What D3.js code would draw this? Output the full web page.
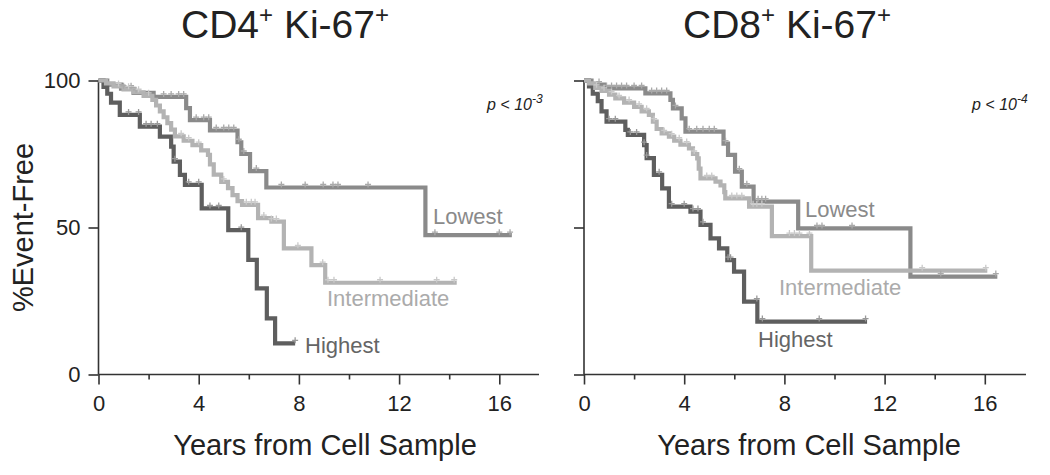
<!DOCTYPE html>
<html>
<head>
<meta charset="utf-8">
<script src="https://cdn.jsdelivr.net/npm/d3@7"></script>
<style>
  html, body { margin: 0; padding: 0; background: #fff; }
  svg { display: block; font-family: "Liberation Sans", Arial, sans-serif; }
</style>
</head>
<body>
<svg id="chart" width="1050" height="475"></svg>
<script>
// ---------- DATA ----------
const groups = ["Lowest", "Intermediate", "Highest"];
const xMajorTicks = [0, 4, 8, 12, 16];
const xMinorTicks = [2, 6, 10, 14];
const yTicks = [0, 50, 100];

// Kaplan-Meier step curves: [time (years), % event-free after the step]
const cd4Lowest = [[0,100],[0.35,98.6],[0.9,97.2],[1.4,95.8],[2.2,94.4],[3.5,90.6],[3.65,86.5],[4.45,83.0],[5.55,79.0],[5.7,75.0],[6.05,69.2],[6.7,63.6],[13.05,47.4],[16.5,47.4]];
const cd4Intermediate = [[0,100],[0.3,99],[0.6,98],[1.0,97],[1.4,96],[1.8,94.8],[2.15,93.4],[2.3,91.5],[2.45,89.5],[2.6,87.5],[2.75,85.5],[2.9,83.3],[3.05,81.0],[3.4,79.5],[3.75,78.0],[4.1,76.2],[4.37,74.7],[4.45,71.5],[4.6,68.0],[4.9,65.5],[5.17,63.4],[5.35,61.0],[5.55,59.0],[5.73,57.7],[6.37,53.2],[6.9,52.0],[7.4,42.9],[8.5,37.2],[9.05,31.2],[14.3,31.2]];
const cd4Highest = [[0,100],[0.2,97.8],[0.35,95.5],[0.5,92.5],[0.85,88.3],[1.65,84.3],[2.45,80.9],[2.9,77.5],[3.0,72.4],[3.25,67.9],[3.45,64.5],[4.12,56.5],[5.18,49.1],[5.98,39.0],[6.32,29.3],[6.72,19.1],[7.05,10.6],[7.85,10.6]];

const cd8Lowest = [[0,100],[0.3,98.6],[0.8,97.3],[2.45,95.6],[3.45,93.4],[3.55,90.5],[3.9,87.1],[4.05,82.6],[5.57,78.5],[5.75,74.7],[6.03,69.0],[6.3,63.9],[6.77,58.8],[8.55,49.7],[13.03,33.3],[16.5,33.3]];
const cd8Intermediate = [[0,100],[0.2,99],[0.45,97.5],[0.7,96.5],[1.0,95.2],[1.25,93.9],[1.6,92.5],[2.0,91.0],[2.3,89.5],[2.59,88.3],[2.75,86.0],[2.9,83.5],[3.1,82.0],[3.39,80.9],[3.6,79.5],[3.85,78.2],[4.19,76.9],[4.35,75.0],[4.52,73.5],[4.58,70.0],[4.65,66.7],[5.25,65.6],[5.45,64.3],[5.6,62.0],[5.64,59.9],[6.59,57.1],[7.5,47.1],[9.07,35.3],[16.1,35.3]];
const cd8Highest = [[0,100],[0.2,98],[0.35,95.5],[0.55,93],[0.7,89.5],[0.9,86],[1.65,83.2],[1.75,81.5],[2.4,78],[2.5,73.6],[2.79,67.9],[3.12,63.3],[3.39,57.1],[4.25,55.4],[4.65,50.9],[5.05,46.3],[5.39,42.9],[5.72,38.9],[5.99,35.0],[6.39,24.8],[6.92,18.0],[11.3,18.0]];

// censored observation times (years)
const cd4LowestCens = [1.0,1.3,1.5,2.6,2.9,3.2,3.4,3.9,4.2,4.4,4.7,5.0,5.2,5.4,5.6,5.8,6.3,7.3,8.25,8.97,9.36,9.56,10.76,13.43,16.0,16.43];
const cd4IntermediateCens = [0.8,1.2,1.6,2.0,3.3,3.6,4.0,5.0,5.9,6.1,6.25,6.6,6.9,7.1,7.96,8.95,9.16,9.4,11.24,13.5,14.2];
const cd4HighestCens = [1.2,1.6,1.9,2.1,2.35,3.05,3.6,4.0,4.45,4.8,5.7,7.85];
const cd8LowestCens = [0.6,0.9,1.1,1.3,1.5,1.7,2.0,2.3,2.7,2.9,3.1,3.3,3.65,4.2,4.5,4.75,5.0,5.2,5.65,6.2,6.5,6.95,7.1,7.25,9.3,9.5,10.7,14.24,16.44];
const cd8IntermediateCens = [0.5,0.8,1.1,1.4,1.8,2.2,2.5,2.8,3.2,3.5,3.8,4.1,4.4,4.9,5.1,5.9,6.1,6.3,6.75,6.9,7.1,8.2,8.4,8.6,9.0,13.5,16.04];
const cd8HighestCens = [1.0,1.25,1.85,2.1,2.4,2.5,3.0,3.5,4.0,4.35,4.55,4.75,5.75,5.85,6.9,7.12,9.39,11.24];

const panels = [
  { title: "CD4", p: "-3",
    curves: { Lowest: cd4Lowest, Intermediate: cd4Intermediate, Highest: cd4Highest },
    cens: { Lowest: cd4LowestCens, Intermediate: cd4IntermediateCens, Highest: cd4HighestCens } },
  { title: "CD8", p: "-4",
    curves: { Lowest: cd8Lowest, Intermediate: cd8Intermediate, Highest: cd8Highest },
    cens: { Lowest: cd8LowestCens, Intermediate: cd8IntermediateCens, Highest: cd8HighestCens } }
];

// ---------- LAYOUT / STYLE ----------
const layout = [
  { x0: 98.5, x1: 539, titleX: 285, axisTitleX: 325, pX: 487,
    labels: { Lowest: [433, 224], Intermediate: [327, 306], Highest: [305, 353] }, yLabels: true },
  { x0: 584, x1: 1026, titleX: 787, axisTitleX: 809, pX: 972,
    labels: { Lowest: [805, 217], Intermediate: [779, 295], Highest: [758, 347] }, yLabels: false }
];
const yTop = 80.5, yBot = 374.5;
const colors = { Lowest: "#8a8a8a", Intermediate: "#b3b3b3", Highest: "#5e5e5e" };
const censColors = { Lowest: "#a9a9a9", Intermediate: "#c9c9c9", Highest: "#999999" };
const labelColors = { Lowest: "#8a8a8a", Intermediate: "#ababab", Highest: "#656565" };
const drawOrder = ["Lowest", "Highest", "Intermediate"];
const axisColor = "#333";
const textColor = "#222";

const svg = d3.select("#chart");
const y = d3.scaleLinear().domain([0, 100]).range([yBot, yTop]);

panels.forEach((panel, i) => {
  const L = layout[i];
  const x = d3.scaleLinear().domain([0, 16]).range([L.x0, L.x0 + 16 * 25.05]);
  const g = svg.append("g");

  // title
  const t = g.append("text").attr("x", L.titleX).attr("y", 38)
    .attr("text-anchor", "middle").attr("fill", textColor).style("font-size", "39px");
  t.append("tspan").text(panel.title);
  t.append("tspan").text("+").style("font-size", "24px").attr("dy", -15);
  t.append("tspan").text(" Ki-67").attr("dy", 15);
  t.append("tspan").text("+").style("font-size", "24px").attr("dy", -15);

  // x axis
  const xAxis = g.append("g").attr("transform", `translate(0,${yBot})`);
  xAxis.call(d3.axisBottom(x).tickValues(xMajorTicks).tickSize(10).tickPadding(11).tickFormat(d3.format("d")));
  xAxis.append("g").call(d3.axisBottom(x).tickValues(xMinorTicks).tickSize(5).tickFormat(""))
    .select(".domain").remove();
  xAxis.selectAll(".domain").attr("stroke", axisColor).attr("stroke-width", 1.6)
    .attr("d", `M${L.x0},0H${L.x1}`);
  xAxis.selectAll(".tick line").attr("stroke", axisColor).attr("stroke-width", 1.6);
  xAxis.selectAll(".tick text").attr("fill", textColor).style("font-size", "22px")
    .style("font-family", "Liberation Sans, Arial, sans-serif");

  // y axis
  const yAxis = g.append("g").attr("transform", `translate(${L.x0},0)`);
  yAxis.call(d3.axisLeft(y).tickValues(yTicks).tickSize(10).tickPadding(8)
    .tickFormat(L.yLabels ? d3.format("d") : ""));
  yAxis.selectAll(".domain").attr("stroke", axisColor).attr("stroke-width", 1.6)
    .attr("d", `M0,${yTop}V${yBot}`);
  yAxis.selectAll(".tick line").attr("stroke", axisColor).attr("stroke-width", 1.6);
  yAxis.selectAll(".tick text").attr("fill", textColor).style("font-size", "22px")
    .style("font-family", "Liberation Sans, Arial, sans-serif");

  // axis titles
  g.append("text").attr("x", L.axisTitleX).attr("y", 455).attr("text-anchor", "middle")
    .attr("fill", textColor).style("font-size", "29px").text("Years from Cell Sample");
  if (L.yLabels) {
    g.append("text").attr("transform", `translate(33,${(yTop + yBot) / 2}) rotate(-90)`)
      .attr("text-anchor", "middle").attr("fill", textColor).style("font-size", "29px")
      .text("%Event-Free");
  }

  // p value
  const pt = g.append("text").attr("x", L.pX).attr("y", 110).attr("fill", textColor)
    .style("font-size", "16px").style("font-style", "italic");
  pt.append("tspan").text("p < 10");
  pt.append("tspan").text(panel.p).style("font-size", "12px").attr("dy", -7);

  // curves
  const line = d3.line().x(d => x(d[0])).y(d => y(d[1])).curve(d3.curveStepAfter);
  drawOrder.forEach(k => {
    const data = panel.curves[k];
    g.append("path").datum(data).attr("d", line).attr("fill", "none")
      .attr("stroke", colors[k]).attr("stroke-width", 4.2).attr("stroke-linejoin", "miter");
  });
  // censor marks
  const survAt = (data, tt) => { let s = data[0][1]; data.forEach(d => { if (d[0] <= tt) s = d[1]; }); return s; };
  drawOrder.forEach(k => {
    const data = panel.curves[k];
    const cg = g.append("g").attr("stroke", censColors[k]).attr("stroke-width", 1.3);
    panel.cens[k].forEach(tt => {
      const cx = x(tt), cy = y(survAt(data, tt)) - 3;
      cg.append("path").attr("d", `M${cx - 3},${cy}H${cx + 3}M${cx},${cy - 3}V${cy + 3}`);
    });
  });

  // group labels
  groups.forEach(k => {
    const [lx, ly] = L.labels[k];
    g.append("text").attr("x", lx).attr("y", ly).attr("fill", labelColors[k])
      .style("font-size", "22px").text(k);
  });
});
</script>
</body>
</html>
